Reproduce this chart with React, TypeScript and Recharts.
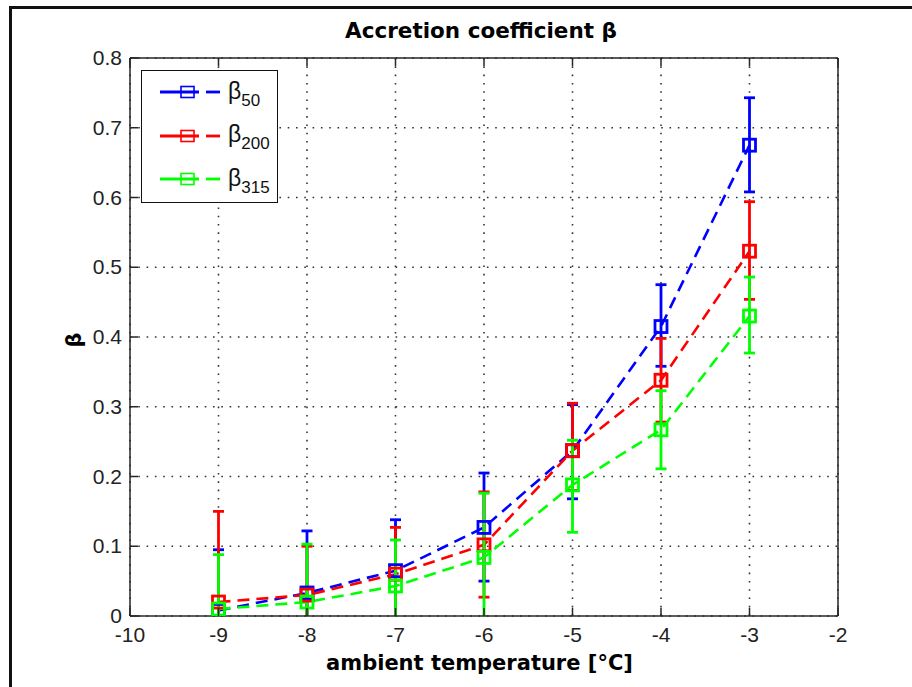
import { LineChart, Line, XAxis, YAxis, CartesianGrid, ErrorBar, Legend } from 'recharts';

// ambient temperature [°C]
const temps = [-9, -8, -7, -6, -5, -4, -3];

// mean accretion coefficient per droplet size
const beta50 = [0.008, 0.033, 0.065, 0.127, 0.237, 0.415, 0.675];
const beta200 = [0.02, 0.03, 0.06, 0.102, 0.237, 0.338, 0.523];
const beta315 = [0.01, 0.02, 0.043, 0.084, 0.188, 0.267, 0.43];

// error bars as [below, above]
const beta50Err = [[0.09, 0.087], [0.09, 0.089], [0.075, 0.073], [0.077, 0.078], [0.069, 0.066], [0.057, 0.06], [0.067, 0.068]];
const beta200Err = [[0.11, 0.13], [0.07, 0.07], [0.07, 0.067], [0.075, 0.076], [0.057, 0.068], [0.06, 0.06], [0.069, 0.071]];
const beta315Err = [[0.08, 0.078], [0.085, 0.083], [0.07, 0.066], [0.094, 0.092], [0.068, 0.064], [0.056, 0.056], [0.053, 0.056]];

const xTicks = [-10, -9, -8, -7, -6, -5, -4, -3, -2];
const yTicks = [0, 0.1, 0.2, 0.3, 0.4, 0.5, 0.6, 0.7, 0.8];

const series = [
  { key: 'b50', err: 'e50', sub: '50', color: '#0000ff' },
  { key: 'b200', err: 'e200', sub: '200', color: '#ff0000' },
  { key: 'b315', err: 'e315', sub: '315', color: '#00ff00' },
];

const data = temps.map((t, i) => ({
  t,
  b50: beta50[i],
  e50: beta50Err[i],
  b200: beta200[i],
  e200: beta200Err[i],
  b315: beta315[i],
  e315: beta315Err[i],
}));

const tickFont = "'Liberation Sans Narrow', 'Liberation Sans', Arial, sans-serif";
const boldFont = "'DejaVu Sans', 'Liberation Sans', sans-serif";
const axisColor = '#262626';

// plot box, used only to clip the error bars the way matlab does
const plotBox = { left: 130, top: 58, right: 838, bottom: 616 };

const squareDot = (color: string) => (p: any) => (
  <rect
    key={`sq-${p.index}`}
    x={p.cx - 6}
    y={p.cy - 6}
    width={12}
    height={12}
    fill="none"
    stroke={color}
    strokeWidth={2.8}
  />
);

const BottomTick = (p: any) => (
  <g>
    <line x1={p.x} x2={p.x} y1={p.y} y2={p.y - 8} stroke={axisColor} strokeWidth={1.5} />
    <text x={p.x} y={p.y + 25.5} textAnchor="middle" fontSize={21} fontFamily={tickFont} fill="#222">
      {p.payload.value}
    </text>
  </g>
);

const LeftTick = (p: any) => (
  <g>
    <line x1={p.x} x2={p.x + 8} y1={p.y} y2={p.y} stroke={axisColor} strokeWidth={1.5} />
    <text x={p.x - 8} y={p.y + 7} textAnchor="end" fontSize={21} fontFamily={tickFont} fill="#222">
      {p.payload.value === 0 ? '0' : Number(p.payload.value).toFixed(1)}
    </text>
  </g>
);

const TopTick = (p: any) => (
  <line x1={p.x} x2={p.x} y1={p.y} y2={p.y + 8} stroke={axisColor} strokeWidth={1.5} />
);

const RightTick = (p: any) => (
  <line x1={p.x} x2={p.x - 8} y1={p.y} y2={p.y} stroke={axisColor} strokeWidth={1.5} />
);

const LegendBox = () => (
  <div
    style={{
      position: 'relative',
      width: 137,
      height: 133,
      border: '1.5px solid #111',
      background: '#fff',
      boxSizing: 'border-box',
    }}
  >
    {series.map((s, i) => (
      <div
        key={s.key}
        style={{ position: 'absolute', left: 18, top: 9 + i * 43.5, height: 24, display: 'flex', alignItems: 'center' }}
      >
        <svg width={62} height={24}>
          <line x1={0} x2={39} y1={12} y2={12} stroke={s.color} strokeWidth={2.8} />
          <line x1={46} x2={60} y1={12} y2={12} stroke={s.color} strokeWidth={2.8} />
          <rect x={21} y={6.5} width={13} height={11} fill="none" stroke={s.color} strokeWidth={1.6} />
        </svg>
        <span style={{ marginLeft: 6, fontSize: 23, fontFamily: tickFont, color: '#111', lineHeight: '24px', whiteSpace: 'nowrap' }}>
          β
          <span style={{ fontSize: 17, position: 'relative', top: 7 }}>{s.sub}</span>
        </span>
      </div>
    ))}
  </div>
);

export default function App() {
  return (
    <div style={{ position: 'absolute', left: 0, top: 0, width: 912, height: 687, background: '#fff', overflow: 'hidden' }}>
      <style>{`.recharts-errorBar { clip-path: url(#plotClip); }`}</style>
      <svg width={0} height={0} style={{ position: 'absolute' }}>
        <defs>
          <clipPath id="plotClip" clipPathUnits="userSpaceOnUse">
            <rect
              x={plotBox.left}
              y={plotBox.top}
              width={plotBox.right - plotBox.left}
              height={plotBox.bottom - plotBox.top}
            />
          </clipPath>
        </defs>
      </svg>
      <div
        style={{
          position: 'absolute',
          left: 9,
          top: 6,
          width: 920,
          height: 700,
          borderLeft: '3px solid #111',
          borderTop: '3px solid #111',
        }}
      />
      <div
        style={{
          position: 'absolute',
          left: 0,
          width: 962,
          top: 18,
          textAlign: 'center',
          fontFamily: boldFont,
          fontWeight: 'bold',
          fontSize: 21.5,
          color: '#000',
        }}
      >
        Accretion coefficient β
      </div>
      <div
        style={{
          position: 'absolute',
          left: 0,
          width: 959,
          top: 651,
          textAlign: 'center',
          fontFamily: boldFont,
          fontWeight: 'bold',
          fontSize: 21,
          color: '#000',
        }}
      >
        ambient temperature [°C]
      </div>
      <div
        style={{
          position: 'absolute',
          left: 61,
          top: 326,
          width: 26,
          height: 28,
          textAlign: 'center',
          lineHeight: '28px',
          fontFamily: boldFont,
          fontWeight: 'bold',
          fontSize: 21,
          color: '#000',
          transform: 'rotate(-90deg)',
        }}
      >
        β
      </div>
      <div style={{ position: 'absolute', left: 0, top: 0 }}>
        <LineChart width={912} height={687} data={data} margin={{ top: 0, right: 0, bottom: 0, left: 0 }}>
          <CartesianGrid stroke="#333" strokeWidth={1.6} strokeDasharray="1.6 6.7" />
          <XAxis
            dataKey="t"
            type="number"
            domain={[-10, -2]}
            ticks={xTicks}
            interval={0}
            height={687 - plotBox.bottom}
            tickSize={0}
            tickMargin={0}
            tick={BottomTick}
            stroke={axisColor}
            strokeWidth={1.5}
          />
          <XAxis
            xAxisId="top"
            orientation="top"
            dataKey="t"
            type="number"
            domain={[-10, -2]}
            ticks={xTicks}
            interval={0}
            height={plotBox.top}
            tickSize={0}
            tickMargin={0}
            tick={TopTick}
            stroke={axisColor}
            strokeWidth={1.5}
          />
          <YAxis
            type="number"
            domain={[0, 0.8]}
            ticks={yTicks}
            interval={0}
            width={plotBox.left}
            tickSize={0}
            tickMargin={0}
            tick={LeftTick}
            allowDataOverflow
            stroke={axisColor}
            strokeWidth={1.5}
          />
          <YAxis
            yAxisId="right"
            orientation="right"
            type="number"
            domain={[0, 0.8]}
            ticks={yTicks}
            interval={0}
            width={912 - plotBox.right}
            tickSize={0}
            tickMargin={0}
            tick={RightTick}
            stroke={axisColor}
            strokeWidth={1.5}
          />
          <Legend
            layout="horizontal"
            verticalAlign="middle"
            align="center"
            content={LegendBox}
            wrapperStyle={{ left: 141, top: 70, width: 137, height: 133 }}
          />
          {series.map((s) => (
            <Line
              key={s.key}
              type="linear"
              dataKey={s.key}
              stroke={s.color}
              strokeWidth={2.6}
              strokeDasharray="12 7"
              dot={squareDot(s.color)}
              activeDot={false}
              isAnimationActive={false}
            >
              <ErrorBar dataKey={s.err} direction="y" width={5.5} stroke={s.color} strokeWidth={2.8} isAnimationActive={false} />
            </Line>
          ))}
        </LineChart>
      </div>
    </div>
  );
}
